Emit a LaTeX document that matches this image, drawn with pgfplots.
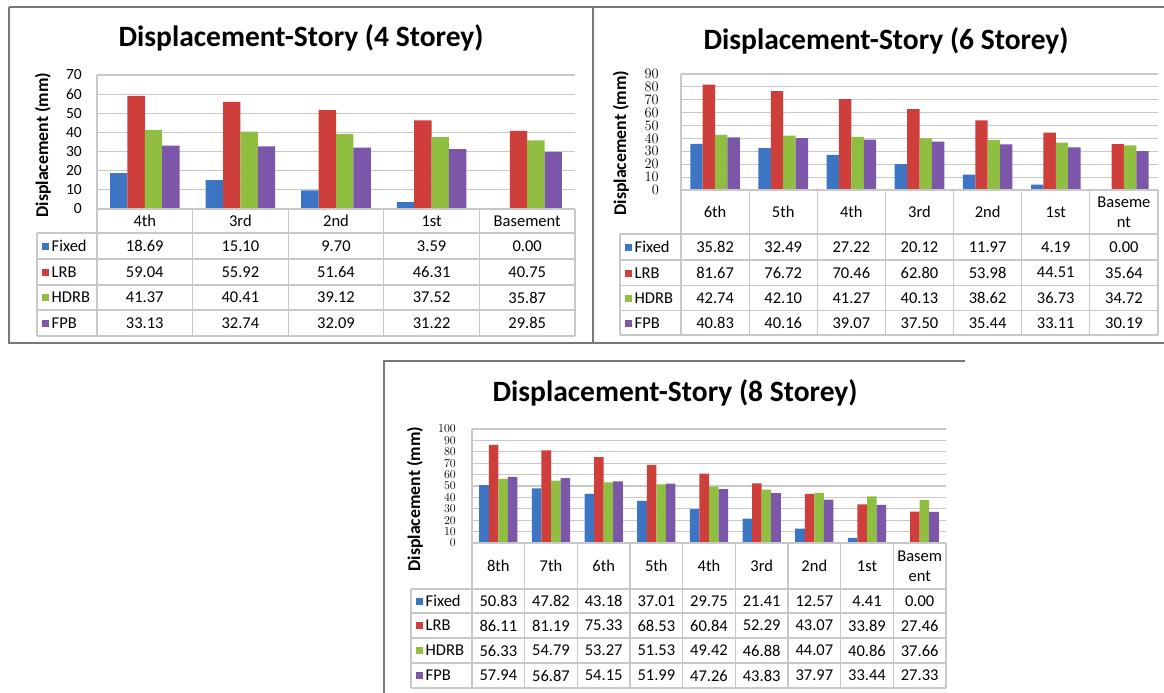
\documentclass[border=0pt]{standalone}
\usepackage{pgfplots}
\usepackage{pgfplotstable}
\pgfplotsset{compat=1.18}
\usepackage{fontspec}
\setmainfont{Carlito}
\definecolor{cFixed}{RGB}{60,117,196}
\definecolor{cLRB}{RGB}{206,62,59}
\definecolor{cHDRB}{RGB}{143,190,64}
\definecolor{cFPB}{RGB}{124,86,168}
\definecolor{gridc}{RGB}{200,200,200}
\definecolor{framec}{RGB}{120,120,120}
\newcommand{\tfont}{\fontsize{16.5}{20}\selectfont}
\newcommand{\titlefont}{\fontsize{29.5}{32}\selectfont\bfseries}
\newcommand{\ylfont}{\fontsize{17.8}{18}\selectfont\bfseries}
\newcommand{\key}[2]{\textcolor{#1}{\rule[1.5pt]{7pt}{7pt}}\hspace{2.5pt}#2}

\pgfplotstableread{
x F L H P
0 18.69 59.04 41.37 33.13
1 15.10 55.92 40.41 32.74
2 9.70 51.64 39.12 32.09
3 3.59 46.31 37.52 31.22
4 0.00 40.75 35.87 29.85
}\tA
\pgfplotstableread{
x F L H P
0 35.82 81.67 42.74 40.83
1 32.49 76.72 42.10 40.16
2 27.22 70.46 41.27 39.07
3 20.12 62.80 40.13 37.50
4 11.97 53.98 38.62 35.44
5 4.19 44.51 36.73 33.11
6 0.00 35.64 34.72 30.19
}\tB
\pgfplotstableread{
x F L H P
0 50.83 86.11 56.33 57.94
1 47.82 81.19 54.79 56.87
2 43.18 75.33 53.27 54.15
3 37.01 68.53 51.53 51.99
4 29.75 60.84 49.42 47.26
5 21.41 52.29 46.88 43.83
6 12.57 43.07 44.07 37.97
7 4.41 33.89 40.86 33.44
8 0.00 27.46 37.66 27.33
}\tC

\pgfplotsset{
  storey/.style={
    scale only axis, anchor=south west,
    ybar=0pt, bar width=0.1818,
    axis line style={draw=none},
    ymajorgrids, major grid style={draw=gridc, line width=1.2pt},
    xtick=\empty, major tick length=0pt,
    ymin=0,
  },
  bF/.style={fill=cFixed, draw=none},
  bL/.style={fill=cLRB, draw=none},
  bH/.style={fill=cHDRB, draw=none},
  bP/.style={fill=cFPB, draw=none},
}

\begin{document}
\begin{tikzpicture}
\useasboundingbox (0,0) rectangle (1164pt,-693pt);
\fill[white] (0,0) rectangle (1164pt,-693pt);

% ---------- panel 1 : 4 storey
\begin{axis}[storey, at={(97pt,-209pt)}, width=478pt, height=134pt,
  xmin=-0.5, xmax=4.5, ymax=70, ytick={0,10,...,70},
  /pgf/number format/assume math mode=true,
  yticklabel style={font=\fontsize{15.5}{15.5}\selectfont, inner xsep=0pt, inner ysep=0pt, xshift=-15pt}]
\addplot[bF] table[x=x,y=F]{\tA};
\addplot[bL] table[x=x,y=L]{\tA};
\addplot[bH] table[x=x,y=H]{\tA};
\addplot[bP] table[x=x,y=P]{\tA};
\end{axis}

% ---------- panel 2 : 6 storey
\begin{axis}[storey, at={(681pt,-190pt)}, width=477pt, height=116pt,
  xmin=-0.5, xmax=6.5, ymax=90, ytick={0,10,...,90},
  yticklabel style={font=\fontsize{14.5}{14.5}\selectfont, inner xsep=0pt, inner ysep=0pt, xshift=-22pt}]
\addplot[bF] table[x=x,y=F]{\tB};
\addplot[bL] table[x=x,y=L]{\tB};
\addplot[bH] table[x=x,y=H]{\tB};
\addplot[bP] table[x=x,y=P]{\tB};
\end{axis}

% ---------- panel 3 : 8 storey
\begin{axis}[storey, at={(472pt,-543pt)}, width=474pt, height=114pt,
  xmin=-0.5, xmax=8.5, ymax=100, ytick={0,10,...,100},
  yticklabel style={font=\fontsize{12.5}{12.5}\selectfont, inner xsep=0pt, inner ysep=0pt, xshift=-16pt}]
\addplot[bF] table[x=x,y=F]{\tC};
\addplot[bL] table[x=x,y=L]{\tC};
\addplot[bH] table[x=x,y=H]{\tC};
\addplot[bP] table[x=x,y=P]{\tC};
\end{axis}

\begin{scope}[x=1pt,y=-1pt, gl/.style={draw=gridc, line width=1.2pt}]
  % frames
  \draw[framec, line width=1.5pt] (9,7) -- (1164,7);
  \draw[framec, line width=1.5pt] (9,7) -- (9,343) -- (1164,343);
  \draw[framec, line width=1.5pt] (593,7) -- (593,343);
  \draw[framec, line width=1.5pt] (384,693) -- (384,361) -- (965,361);

  % ===== panel 1 table
  \draw[gl] (97,75) -- (97,336);
  \foreach \k in {1,...,5} \draw[gl] ({97+\k*95.6},209) -- ({97+\k*95.6},336);
  \draw[gl] (97,209) -- (575,209);
  \foreach \yy in {233,259,285,310,336} \draw[gl] (37,\yy) -- (575,\yy);
  \draw[gl] (37,233) -- (37,336);
  \foreach \lab [count=\i from 0] in {4th,3rd,2nd,1st,Basement}
    \node[font=\tfont] at ({97+(\i+0.5)*95.6},221) {\lab};
  \foreach \row/\yc in {{18.69,15.10,9.70,3.59,0.00}/246,{59.04,55.92,51.64,46.31,40.75}/272,{41.37,40.41,39.12,37.52,35.87}/297.5,{33.13,32.74,32.09,31.22,29.85}/323}
    \foreach \v [count=\i from 0] in \row \node[font=\tfont] at ({97+(\i+0.5)*95.6},\yc) {\v};
  \foreach \c/\lab/\yc in {cFixed/Fixed/246,cLRB/LRB/272,cHDRB/HDRB/297.5,cFPB/FPB/323}
    \node[font=\tfont, anchor=west, inner sep=0pt] at (42,\yc) {\key{\c}{\lab}};
  \node[font=\titlefont, anchor=base] at (301,47) {Displacement-Story (4 Storey)};
  \node[font=\ylfont, rotate=90] at (43,145) {Displacement (mm)};

  % ===== panel 2 table
  \draw[gl] (681,74) -- (681,335);
  \foreach \k in {1,...,7} \draw[gl] ({681+\k*68.143},190) -- ({681+\k*68.143},335);
  \draw[gl] (681,190) -- (1158,190);
  \foreach \yy in {234,260,285.5,310.5,335} \draw[gl] (620,\yy) -- (1158,\yy);
  \draw[gl] (620,234) -- (620,335);
  \foreach \lab [count=\i from 0] in {6th,5th,4th,3rd,2nd,1st,{Baseme\\nt}}
    \node[font=\tfont, align=center] at ({681+(\i+0.5)*68.143},212) {\lab};
  \foreach \row/\yc in {{35.82,32.49,27.22,20.12,11.97,4.19,0.00}/247,{81.67,76.72,70.46,62.80,53.98,44.51,35.64}/272.75,{42.74,42.10,41.27,40.13,38.62,36.73,34.72}/298,{40.83,40.16,39.07,37.50,35.44,33.11,30.19}/322.75}
    \foreach \v [count=\i from 0] in \row \node[font=\tfont] at ({681+(\i+0.5)*68.143},\yc) {\v};
  \foreach \c/\lab/\yc in {cFixed/Fixed/247,cLRB/LRB/272.75,cHDRB/HDRB/298,cFPB/FPB/322.75}
    \node[font=\tfont, anchor=west, inner sep=0pt] at (625,\yc) {\key{\c}{\lab}};
  \node[font=\titlefont, anchor=base] at (886,49) {Displacement-Story (6 Storey)};
  \node[font=\ylfont, rotate=90] at (621,143) {Displacement (mm)};

  % ===== panel 3 table
  \draw[gl] (472,429) -- (472,688);
  \foreach \k in {1,...,9} \draw[gl] ({472+\k*52.667},543) -- ({472+\k*52.667},688);
  \draw[gl] (472,543) -- (946,543);
  \foreach \yy in {589,613,638,663,688} \draw[gl] (411,\yy) -- (946,\yy);
  \draw[gl] (411,589) -- (411,688);
  \foreach \lab [count=\i from 0] in {8th,7th,6th,5th,4th,3rd,2nd,1st,{Basem\\ent}}
    \node[font=\tfont, align=center] at ({472+(\i+0.5)*52.667},566) {\lab};
  \foreach \row/\yc in {{50.83,47.82,43.18,37.01,29.75,21.41,12.57,4.41,0.00}/601,{86.11,81.19,75.33,68.53,60.84,52.29,43.07,33.89,27.46}/625.5,{56.33,54.79,53.27,51.53,49.42,46.88,44.07,40.86,37.66}/650.5,{57.94,56.87,54.15,51.99,47.26,43.83,37.97,33.44,27.33}/675.5}
    \foreach \v [count=\i from 0] in \row \node[font=\tfont] at ({472+(\i+0.5)*52.667},\yc) {\v};
  \foreach \c/\lab/\yc in {cFixed/Fixed/601,cLRB/LRB/625.5,cHDRB/HDRB/650.5,cFPB/FPB/675.5}
    \node[font=\tfont, anchor=west, inner sep=0pt] at (416,\yc) {\key{\c}{\lab}};
  \node[font=\titlefont, anchor=base] at (675,401) {Displacement-Story (8 Storey)};
  \node[font=\ylfont, rotate=90] at (415,499) {Displacement (mm)};
\end{scope}
\end{tikzpicture}
\end{document}
